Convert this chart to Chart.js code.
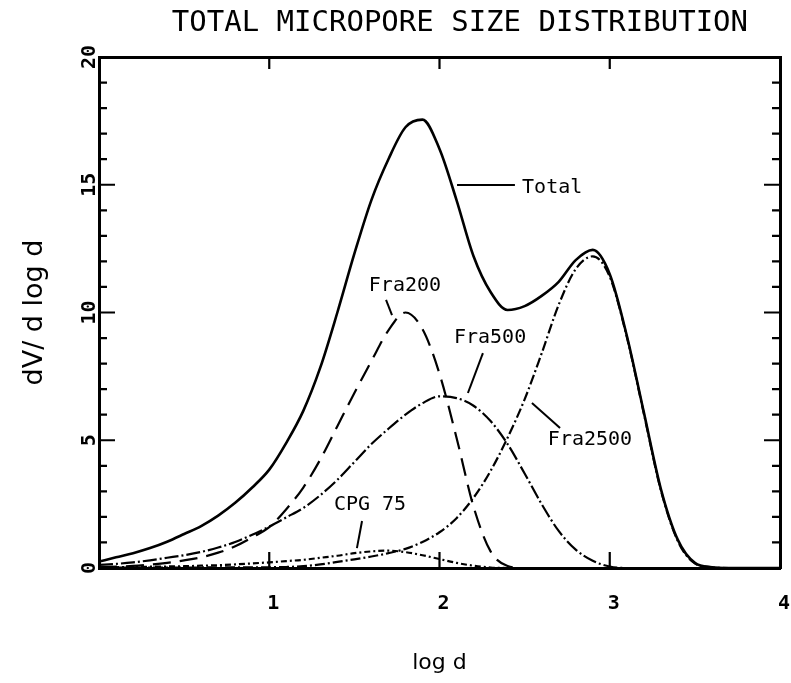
<!DOCTYPE html>
<html>
<head>
<meta charset="utf-8">
<script src="https://cdn.jsdelivr.net/npm/chart.js@4.4.1/dist/chart.umd.min.js"></script>
<style>
html,body{margin:0;padding:0;background:#fff;}
#wrap{width:791px;height:683px;}
</style>
</head>
<body>
<div id="wrap"><canvas id="c" width="791" height="683"></canvas></div>
<script>
// ---- data ----
const chartTitle = 'TOTAL MICROPORE SIZE DISTRIBUTION';
const xTitle = 'log d';
const yTitle = 'dV/ d log d';
const seriesNames = ['Total', 'Fra200', 'Fra500', 'Fra2500', 'CPG 75'];

const logD = [0.0,0.1,0.2,0.3,0.4,0.5,0.6,0.7,0.8,0.9,1.0,1.1,1.2,1.3,1.4,1.5,1.6,1.7,1.8,1.9,2.0,
              2.1,2.2,2.3,2.4,2.5,2.6,2.7,2.8,2.9,3.0,3.1,3.2,3.3,3.4,3.5,3.6,3.7,3.8,3.9,4.0];

const total   = [0.25,0.42,0.58,0.78,1.03,1.33,1.64,2.05,2.55,3.15,3.85,4.9,6.15,7.85,10.0,12.3,14.4,16.0,17.25,17.55,16.4,
                 14.4,12.2,10.8,10.1,10.25,10.65,11.2,12.05,12.45,11.5,9.1,6.1,3.1,1.1,0.2,0.03,0,0,0,0];
const fra200  = [0.03,0.05,0.08,0.13,0.2,0.3,0.42,0.6,0.85,1.2,1.6,2.3,3.15,4.25,5.55,6.85,8.1,9.3,10.0,9.35,7.6,
                 5.1,2.4,0.65,0.08,0,0,0,0,0,0,0,0,0,0,0,0,0,0,0,0];
const fra500  = [0.12,0.16,0.22,0.3,0.4,0.5,0.63,0.8,1.02,1.3,1.62,1.98,2.35,2.85,3.45,4.15,4.85,5.45,6.0,6.45,6.72,
                 6.65,6.35,5.75,4.85,3.7,2.5,1.45,0.72,0.28,0.06,0,0,0,0,0,0,0,0,0,0];
const fra2500 = [0.02,0.02,0.02,0.02,0.02,0.02,0.02,0.03,0.03,0.03,0.03,0.04,0.07,0.14,0.24,0.34,0.45,0.58,0.75,1.02,1.4,
                 1.95,2.75,3.8,5.1,6.6,8.4,10.3,11.7,12.2,11.4,9.05,6.05,3.05,1.05,0.18,0.03,0,0,0,0];
const cpg75   = [0.03,0.03,0.04,0.05,0.06,0.07,0.09,0.11,0.14,0.18,0.22,0.27,0.32,0.4,0.48,0.58,0.65,0.68,0.62,0.5,0.35,
                 0.2,0.09,0.02,0,0,0,0,0,0,0,0,0,0,0,0,0,0,0,0,0];

const xTickValues = [1, 2, 3];
const yMajorTicks = [5, 10, 15];
const yMinorTicks = [1,2,3,4,6,7,8,9,11,12,13,14,16,17,18,19];

// ---- chart ----
const series = [total, fra200, fra500, fra2500, cpg75];
const dashes = [[], [18, 9], [14, 3, 2, 3], [10, 3, 2, 3], [6, 3, 2, 3]];
const widths = [2.6, 2.2, 2.2, 2.2, 2.2];

const datasets = series.map((vals, i) => ({
  label: seriesNames[i],
  data: logD.map((x, j) => ({x: x, y: vals[j]})),
  borderColor: '#000',
  borderWidth: widths[i],
  borderDash: dashes[i],
  pointRadius: 0,
  fill: false,
  cubicInterpolationMode: 'monotone'
}));

// label placement (data units) and leader lines
const annotations = [
  {name: 'Total',   x: 2.485, y: 14.87, align: 'left',   line: [2.103, 14.99, 2.443, 14.99]},
  {name: 'Fra200',  x: 1.797, y: 11.04, align: 'center', line: [1.686, 10.49, 1.721, 9.90]},
  {name: 'Fra500',  x: 2.297, y: 9.00,  align: 'center', line: [2.255, 8.41, 2.167, 6.85]},
  {name: 'Fra2500', x: 2.884, y: 5.01,  align: 'center', line: [2.543, 6.46, 2.708, 5.48]},
  {name: 'CPG 75',  x: 1.592, y: 2.47,  align: 'center', line: [1.545, 1.84, 1.515, 0.78]}
];

const mono = "'DejaVu Sans Mono', monospace";

const decorPlugin = {
  id: 'decor',
  afterDraw(chart) {
    const {ctx, chartArea: a} = chart;
    const xs = chart.scales.x, ys = chart.scales.y;
    ctx.save();
    // inward tick marks
    ctx.strokeStyle = '#000';
    ctx.lineWidth = 2.2;
    ctx.beginPath();
    xTickValues.forEach(v => {
      const px = xs.getPixelForValue(v);
      ctx.moveTo(px, a.bottom); ctx.lineTo(px, a.bottom - 16);
      ctx.moveTo(px, a.top); ctx.lineTo(px, a.top + 12);
    });
    yMajorTicks.forEach(v => {
      const py = ys.getPixelForValue(v);
      ctx.moveTo(a.left, py); ctx.lineTo(a.left + 16, py);
      ctx.moveTo(a.right, py); ctx.lineTo(a.right - 16, py);
    });
    yMinorTicks.forEach(v => {
      const py = ys.getPixelForValue(v);
      ctx.moveTo(a.left, py); ctx.lineTo(a.left + 8, py);
      ctx.moveTo(a.right, py); ctx.lineTo(a.right - 8, py);
    });
    ctx.stroke();

    // series labels with leader lines
    ctx.lineWidth = 2;
    ctx.fillStyle = '#000';
    ctx.font = '20px ' + mono;
    ctx.textBaseline = 'middle';
    annotations.forEach(an => {
      const l = an.line;
      ctx.beginPath();
      ctx.moveTo(xs.getPixelForValue(l[0]), ys.getPixelForValue(l[1]));
      ctx.lineTo(xs.getPixelForValue(l[2]), ys.getPixelForValue(l[3]));
      ctx.stroke();
      ctx.textAlign = an.align;
      ctx.fillText(an.name, xs.getPixelForValue(an.x), ys.getPixelForValue(an.y));
    });

    // chart title
    ctx.font = '29px ' + mono;
    ctx.textAlign = 'center';
    ctx.textBaseline = 'middle';
    ctx.fillText(chartTitle, a.left + (a.right - a.left) * 0.53, 23);
    ctx.restore();
  }
};

new Chart(document.getElementById('c'), {
  type: 'line',
  data: {datasets: datasets},
  options: {
    responsive: false,
    animation: false,
    devicePixelRatio: 1,
    layout: {padding: {top: 57, left: 0, right: 0, bottom: 0}},
    plugins: {legend: {display: false}, title: {display: false}, tooltip: {enabled: false}},
    scales: {
      x: {
        type: 'linear', position: 'bottom', min: 0, max: 4,
        grid: {display: false, drawTicks: true, tickLength: 24},
        border: {display: true, color: '#000', width: 3},
        ticks: {
          stepSize: 1, color: '#000', padding: 0, labelOffset: 4,
          font: {family: mono, size: 20, weight: 'bold'},
          callback: v => (v === 0 ? '' : String(v))
        },
        title: {display: true, text: xTitle, color: '#000',
                font: {family: "'DejaVu Sans', sans-serif", size: 22}, padding: {top: 0, bottom: 7}},
        afterFit: s => { s.height = 115; }
      },
      x2: {
        type: 'linear', position: 'top', min: 0, max: 4,
        grid: {display: false, drawTicks: false},
        border: {display: true, color: '#000', width: 3},
        ticks: {display: false},
        afterFit: s => { s.height = 0; }
      },
      y: {
        type: 'linear', position: 'left', min: 0, max: 20,
        grid: {display: false, drawTicks: false},
        border: {display: true, color: '#000', width: 3},
        ticks: {
          stepSize: 5, color: '#000', padding: -3, minRotation: 90, maxRotation: 90, crossAlign: 'center',
          font: {family: mono, size: 20, weight: 'bold'}
        },
        title: {display: true, text: yTitle, color: '#000',
                font: {family: "'DejaVu Sans', sans-serif", size: 27}, padding: {top: 19, bottom: 0}},
        afterFit: s => { s.width = 99; }
      },
      y2: {
        type: 'linear', position: 'right', min: 0, max: 20,
        grid: {display: false, drawTicks: false},
        border: {display: true, color: '#000', width: 3},
        ticks: {display: false},
        afterFit: s => { s.width = 11; }
      }
    }
  },
  plugins: [decorPlugin]
});
</script>
</body>
</html>
